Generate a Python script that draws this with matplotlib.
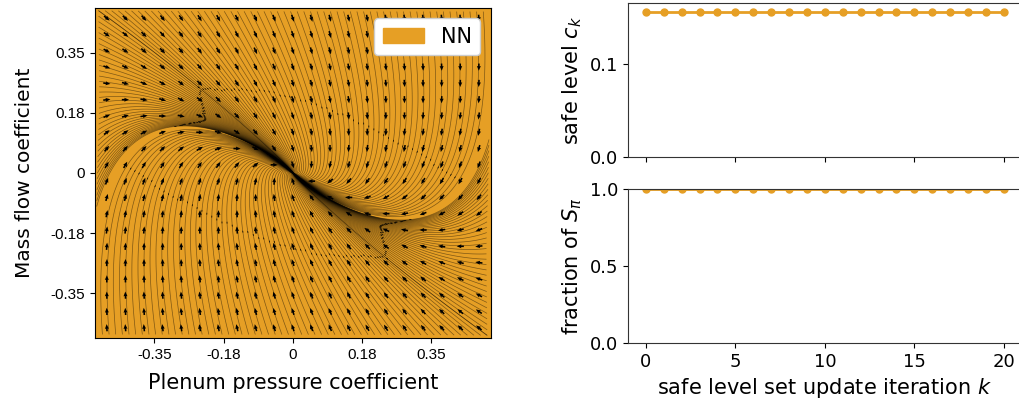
import matplotlib.pyplot as plt
import numpy as np

# colours
orange = '#E69F25'

# linearised closed-loop dynamics (pressure, mass flow)
A = np.array([[-0.7, 1.0],
              [-1.5, -3.0]])

# left panel axes / ticks
x_lim = (-0.5, 0.5)
y_lim = (-0.48, 0.48)
tick_pos = [-0.35, -0.175, 0, 0.175, 0.35]
tick_lbl = ['-0.35', '-0.18', '0', '0.18', '0.35']

# right panels: safe level per iteration and covered fraction
iters = list(range(21))
safe_level = [0.156] * 21
fraction = [1.0] * 21

fig = plt.figure(figsize=(10.2, 4.12), dpi=100)
ax0 = fig.add_axes([0.0931, 0.1796, 0.388, 0.801])
ax1 = fig.add_axes([0.6157, 0.619, 0.386, 0.374])
ax2 = fig.add_axes([0.6157, 0.1675, 0.386, 0.374])

# --- phase portrait ---
gx = np.linspace(x_lim[0], x_lim[1], 200)
gy = np.linspace(y_lim[0], y_lim[1], 200)
X, Y = np.meshgrid(gx, gy)
U = A[0, 0] * X + A[0, 1] * Y
V = A[1, 0] * X + A[1, 1] * Y

ax0.set_facecolor(orange)
ax0.fill_between([x_lim[0], x_lim[1]], y_lim[0], y_lim[1], color=orange, label='NN', zorder=0)

# seed trajectories on the edges where the flow enters the box
n_edge = 60
ex = np.linspace(x_lim[0] * 0.995, x_lim[1] * 0.995, n_edge)
ey = np.linspace(y_lim[0] * 0.995, y_lim[1] * 0.995, n_edge)
left = np.column_stack([np.full(n_edge, x_lim[0] * 0.995), ey])
right = np.column_stack([np.full(n_edge, x_lim[1] * 0.995), ey])
starts = np.vstack([
    np.column_stack([ex, np.full(n_edge, y_lim[1] * 0.995)]),
    np.column_stack([ex, np.full(n_edge, y_lim[0] * 0.995)]),
    left[left[:, 1] > -0.12],
    right[right[:, 1] < 0.12],
])
sp = ax0.streamplot(X, Y, U, V, start_points=starts, color='k', linewidth=0.5,
                    arrowstyle='-', broken_streamlines=False, integration_direction='forward',
                    density=4)
sp.lines.set_alpha(0.45)

qx = np.linspace(-0.47, 0.47, 21)
qy = np.linspace(-0.45, 0.45, 20)
QX, QY = np.meshgrid(qx, qy)
QU = A[0, 0] * QX + A[0, 1] * QY
QV = A[1, 0] * QX + A[1, 1] * QY
nrm = np.hypot(QU, QV) + 1e-9
ax0.quiver(QX, QY, QU / nrm, QV / nrm, color='k', scale=55, width=0.004,
           headwidth=2.5, headlength=3, headaxislength=2.8, pivot='mid', zorder=3)

ax0.set_xlim(x_lim)
ax0.set_ylim(y_lim)
ax0.set_xticks(tick_pos)
ax0.set_xticklabels(tick_lbl, family='Liberation Sans', fontsize=11)
ax0.set_yticks(tick_pos)
ax0.set_yticklabels(tick_lbl, family='Liberation Sans', fontsize=11)
ax0.set_xlabel('Plenum pressure coefficient', fontsize=15, labelpad=8)
ax0.set_ylabel('Mass flow coefficient', fontsize=14.5, labelpad=12)
ax0.legend(loc='upper right', fontsize=15, fancybox=True, framealpha=1)

# --- safe level history ---
ax1.plot(iters, safe_level, color=orange, marker='o', markersize=5, linewidth=2)
ax1.set_ylim(0, max(safe_level) * 1.06)
ax1.set_yticks([0.0, 0.1])
ax1.set_xlim(-1, 21)
ax1.set_xticks([0, 5, 10, 15, 20])
ax1.tick_params(labelbottom=False, labelsize=13)
ax1.set_ylabel('safe level $c_k$', fontsize=15)

ax2.plot(iters, fraction, color=orange, marker='o', markersize=5, linewidth=2, clip_on=True)
ax2.set_ylim(0, 1.0)
ax2.set_yticks([0.0, 0.5, 1.0])
ax2.set_xlim(-1, 21)
ax2.set_xticks([0, 5, 10, 15, 20])
ax2.tick_params(labelsize=13)
ax2.set_ylabel(r'fraction of $S_\pi$', fontsize=15)
ax2.set_xlabel('safe level set update iteration $k$', fontsize=15)

for ax in (ax1, ax2):
    for s in ax.spines.values():
        s.set_color('#333333')

fig.savefig('out.png', dpi=100)
